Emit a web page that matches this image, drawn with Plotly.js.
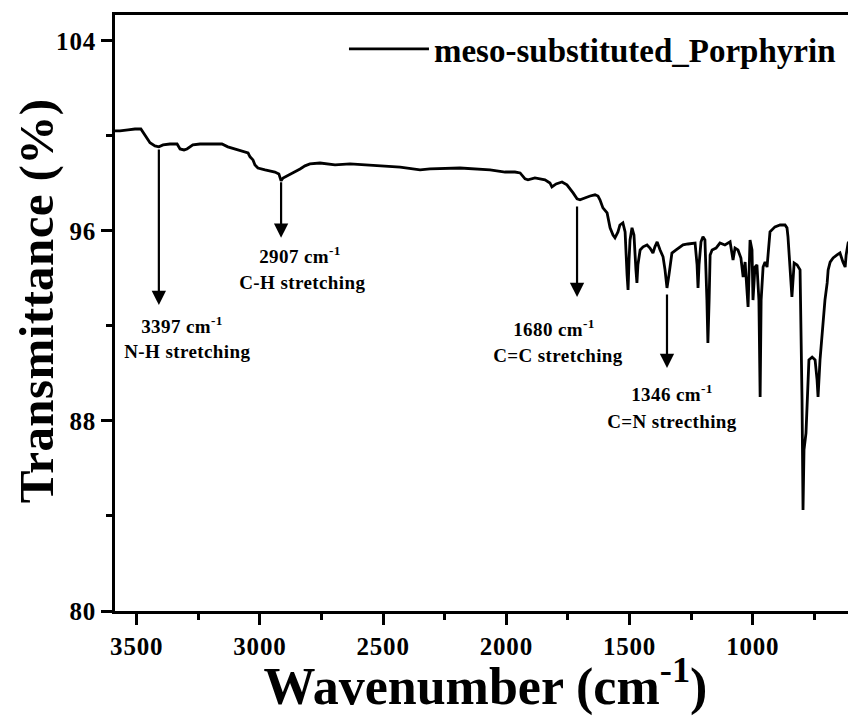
<!DOCTYPE html>
<html>
<head>
<meta charset="utf-8">
<script src="https://cdn.plot.ly/plotly-3.0.1.min.js"></script>
<style>
  html, body { margin: 0; padding: 0; overflow: hidden; background: #fff; }
  #chart { width: 860px; height: 716px; }
  #chart .annotation-text { letter-spacing: 0.4px; }
  #chart .xtick text, #chart .ytick text { letter-spacing: 0.8px; }
</style>
</head>
<body>
<div id="chart"></div>
<script>
// FTIR spectrum, meso-substituted porphyrin
const wavenumber = [
  3588, 3568, 3535, 3507, 3483, 3466, 3446, 3426, 3410, 3393, 3365, 3336, 3324, 3308, 3296, 3272,
  3243, 3203, 3154, 3130, 3101, 3081, 3061, 3048, 3040, 3028, 3020, 3008, 2979, 2959, 2939, 2923,
  2914, 2906, 2890, 2878, 2858, 2837, 2817, 2797, 2756, 2695, 2634, 2553, 2431, 2350, 2310, 2188,
  2066, 2005, 1965, 1944, 1924, 1912, 1884, 1843, 1823, 1815, 1798, 1774, 1754, 1729, 1713, 1701,
  1681, 1660, 1640, 1628, 1620, 1608, 1591, 1579, 1567, 1559, 1547, 1539, 1527, 1518, 1510, 1506,
  1502, 1498, 1490, 1482, 1474, 1470, 1466, 1457, 1445, 1429, 1417, 1405, 1397, 1388, 1376, 1364,
  1356, 1348, 1340, 1328, 1311, 1295, 1283, 1263, 1242, 1234, 1226, 1222, 1218, 1210, 1202, 1194,
  1186, 1182, 1177, 1173, 1165, 1149, 1133, 1113, 1092, 1080, 1072, 1060, 1048, 1039, 1031, 1019,
  1011, 1003, 999, 991, 983, 975, 970, 966, 958, 950, 942, 930, 910, 889, 869, 861,
  857, 849, 841, 832, 820, 808, 804, 800, 796, 792, 784, 780, 772, 759, 747, 739,
  735, 727, 719, 707, 698, 694, 686, 674, 658, 646, 634, 625, 621, 613, 597
];
const transmittance = [
  100.21, 100.21, 100.25, 100.29, 100.29, 100.00, 99.71, 99.58, 99.54, 99.62, 99.66, 99.66, 99.45, 99.41, 99.45, 99.62,
  99.66, 99.66, 99.66, 99.54, 99.45, 99.37, 99.33, 99.28, 99.12, 98.99, 98.78, 98.65, 98.57, 98.53, 98.48, 98.40,
  98.11, 98.23, 98.32, 98.36, 98.48, 98.61, 98.74, 98.82, 98.86, 98.78, 98.82, 98.78, 98.69, 98.57, 98.61, 98.65,
  98.57, 98.48, 98.48, 98.44, 98.19, 98.15, 98.23, 98.15, 98.02, 97.85, 97.98, 98.06, 97.94, 97.60, 97.35, 97.31,
  97.39, 97.47, 97.52, 97.47, 97.31, 96.97, 96.76, 96.13, 95.83, 95.71, 95.96, 96.25, 96.34, 95.96, 94.15, 93.52,
  94.78, 95.62, 96.13, 95.83, 94.36, 93.81, 94.57, 95.20, 95.33, 95.41, 95.28, 95.07, 95.33, 95.54, 95.20, 94.91,
  94.36, 93.60, 94.15, 95.07, 95.20, 95.33, 95.41, 95.45, 95.49, 95.49, 94.57, 93.60, 94.57, 95.54, 95.75, 95.62,
  93.09, 91.28, 93.09, 94.99, 95.20, 95.28, 95.49, 95.41, 95.54, 94.78, 95.28, 95.20, 94.86, 94.06, 94.69, 92.80,
  95.62, 95.20, 93.09, 94.48, 94.57, 93.09, 89.01, 93.09, 94.48, 94.69, 94.48, 95.96, 96.17, 96.25, 96.25, 96.13,
  95.75, 94.48, 93.22, 94.65, 94.57, 94.36, 92.25, 88.88, 84.25, 86.78, 87.49, 88.46, 90.57, 90.69, 90.57, 89.73,
  89.01, 90.57, 91.54, 93.09, 93.81, 94.36, 94.69, 94.86, 94.99, 95.07, 94.69, 94.48, 94.99, 95.49, 95.71
];

// Peak assignments
const peakLine1 = ['3397 cm<sup>-1</sup>', '2907 cm<sup>-1</sup>', '1680 cm<sup>-1</sup>', '1346 cm<sup>-1</sup>'];
const peakLine2 = ['N-H stretching', 'C-H stretching', 'C=C stretching', 'C=N strecthing'];
// arrow position (as drawn), arrow tail on the curve, arrow head
const arrowX = [3410, 2914, 1713, 1348];
const arrowTail = [99.49, 98.11, 97.09, 93.39];
const arrowHead = [92.88, 95.71, 93.22, 90.23];
// label placement (data coordinates)
const label1X = [3315, 2837, 1807, 1328];
const label1Y = [92.04, 94.99, 91.92, 89.18];
const label2X = [3292, 2829, 1790, 1328];
const label2Y = [90.91, 93.81, 90.74, 87.96];

const xTickVals = [3500, 3000, 2500, 2000, 1500, 1000];
const xTickText = ['3500', '3000', '2500', '2000', '1500', '1000'];
const xMinorVals = [3250, 2750, 2250, 1750, 1250, 750];
const yTickVals = [80, 88, 96, 104];
const yTickText = ['80', '88', '96', '104'];
const yMinorVals = [84, 92, 100];

const seriesName = 'meso-substituted_Porphyrin';
const xTitle = 'Wavenumber (cm<sup>-1</sup>)';
const yTitle = 'Transmittance (%)';

const serif = 'Liberation Serif, Times New Roman, serif';

const annotations = [];
for (let i = 0; i < arrowX.length; i++) {
  annotations.push({
    x: arrowX[i], y: arrowHead[i], xref: 'x', yref: 'y',
    ax: arrowX[i], ay: arrowTail[i], axref: 'x', ayref: 'y',
    text: '', showarrow: true, arrowhead: 2, arrowsize: 1.3, arrowwidth: 2.2,
    arrowcolor: '#000', standoff: 0, startstandoff: 0
  });
  annotations.push({
    x: label1X[i], y: label1Y[i], xref: 'x', yref: 'y', showarrow: false,
    text: peakLine1[i], xanchor: 'center', yanchor: 'middle',
    font: {family: serif, size: 19, color: '#000', weight: 'bold'}
  });
  annotations.push({
    x: label2X[i], y: label2Y[i], xref: 'x', yref: 'y', showarrow: false,
    text: peakLine2[i], xanchor: 'center', yanchor: 'middle',
    font: {family: serif, size: 19, color: '#000', weight: 'bold'}
  });
}
// y-axis title placed as a rotated annotation so it can sit close to the tick labels
annotations.push({
  xref: 'paper', yref: 'paper', x: -0.107, y: 0.52, xanchor: 'center', yanchor: 'middle',
  showarrow: false, textangle: -90, text: yTitle,
  font: {family: serif, size: 49, color: '#000', weight: 'bold'}
});

const trace = {
  x: wavenumber, y: transmittance, type: 'scatter', mode: 'lines',
  name: seriesName, line: {color: '#000', width: 2.8}
};

const layout = {
  width: 860, height: 716,
  margin: {l: 115, r: 4, t: 15, b: 105},
  paper_bgcolor: '#fff', plot_bgcolor: '#fff',
  font: {family: serif, color: '#000'},
  showlegend: true,
  legend: {
    x: 0.309, y: 0.99, xanchor: 'left', yanchor: 'top',
    bgcolor: 'rgba(0,0,0,0)', borderwidth: 0, itemwidth: 80,
    font: {family: serif, size: 33, color: '#000', weight: 'bold'}
  },
  xaxis: {
    range: [3588, 581], showgrid: false, zeroline: false,
    showline: true, linewidth: 3, linecolor: '#000', mirror: true,
    ticks: 'outside', ticklen: 11, tickwidth: 3, tickcolor: '#000',
    tickmode: 'array', tickvals: xTickVals, ticktext: xTickText,
    minor: {tickmode: 'array', tickvals: xMinorVals, ticks: 'outside', ticklen: 6, tickwidth: 3, tickcolor: '#000'},
    tickfont: {family: serif, size: 25, color: '#000', weight: 'bold'},
    title: {text: xTitle, standoff: 6,
            font: {family: serif, size: 52, color: '#000', weight: 'bold'}}
  },
  yaxis: {
    range: [80, 105.09], showgrid: false, zeroline: false,
    showline: true, linewidth: 3, linecolor: '#000', mirror: true,
    ticks: 'outside', ticklen: 11, tickwidth: 3, tickcolor: '#000',
    tickmode: 'array', tickvals: yTickVals, ticktext: yTickText,
    minor: {tickmode: 'array', tickvals: yMinorVals, ticks: 'outside', ticklen: 6, tickwidth: 3, tickcolor: '#000'},
    tickfont: {family: serif, size: 25, color: '#000', weight: 'bold'}
  },
  annotations: annotations
};

Plotly.newPlot('chart', [trace], layout, {displayModeBar: false, staticPlot: true});
</script>
</body>
</html>
